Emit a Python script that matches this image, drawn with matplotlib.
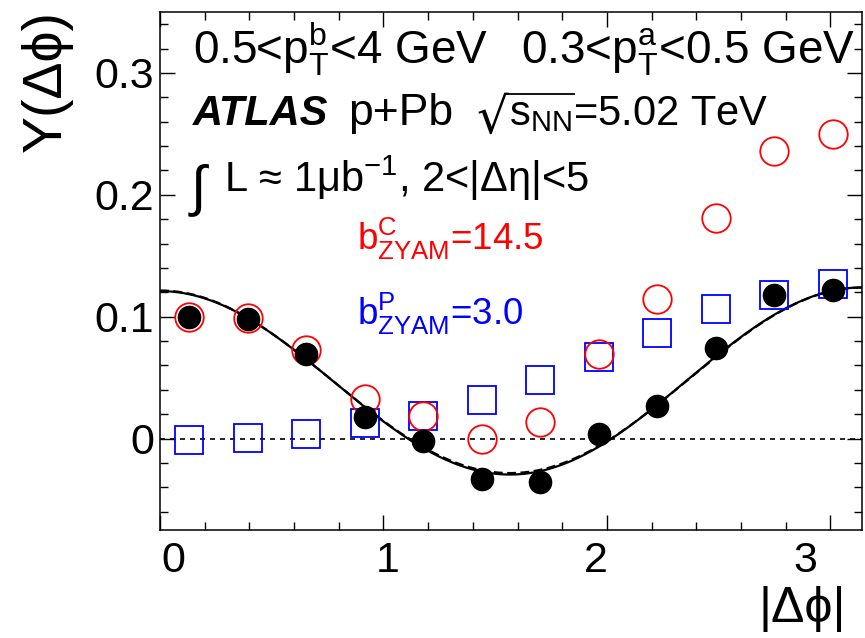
import numpy as np
import matplotlib
matplotlib.use("Agg")
import matplotlib.pyplot as plt
from matplotlib.lines import Line2D
from matplotlib.ticker import MultipleLocator
from matplotlib.transforms import ScaledTranslation

plt.rcParams['font.family'] = ['Liberation Sans', 'DejaVu Sans']
plt.rcParams['mathtext.fontset'] = 'custom'
plt.rcParams['mathtext.rm'] = 'Liberation Sans'
plt.rcParams['mathtext.it'] = 'Liberation Sans:italic'
plt.rcParams['mathtext.bf'] = 'Liberation Sans:bold'

# bin centres of |dphi| (12 bins over 0..pi)
dphi = [0.131, 0.393, 0.654, 0.916, 1.178, 1.440,
        1.702, 1.963, 2.225, 2.487, 2.749, 3.011]

# Y(dphi) after subtraction (black), central pairs (red), peripheral pairs (blue)
y_sub = [0.0995, 0.098, 0.069, 0.018, -0.0018, -0.033,
         -0.0358, 0.0035, 0.027, 0.074, 0.118, 0.122]
y_central = [0.0995, 0.099, 0.0727, 0.0325, 0.0189, -0.0003,
             0.0134, 0.0694, 0.1145, 0.181, 0.236, 0.250]
y_periph = [-0.0008, 0.0003, 0.0038, 0.0128, 0.0189, 0.0317,
            0.0484, 0.0667, 0.0863, 0.1063, 0.118, 0.1268]

# Fourier coefficients of the two fit curves: c0 + sum cn cos(n dphi)
fit_solid = [0.0465, -0.0015, 0.0760]
fit_dashed = [0.0468, -0.0012, 0.0755, 0.0, 0.0004]

W, H = 865, 638
fig = plt.figure(figsize=(W / 100, H / 100), dpi=100)
ax = fig.add_axes([160 / W, (H - 530) / H, 702 / W, 518 / H])


def fourier(coef, x):
    return sum(c * np.cos(n * x) for n, c in enumerate(coef))


xs = np.linspace(0, np.pi, 300)
ax.plot(xs, fourier(fit_dashed, xs), color='black', lw=1.6, ls=(0, (4, 2)), zorder=2)
ax.plot(xs, fourier(fit_solid, xs), color='black', lw=1.6, zorder=2)
ax.axhline(0, color='black', lw=1.2, ls=(0, (3, 3)), zorder=1)

ax.plot(dphi, y_periph, 's', ms=20.5, mfc='none', mec='blue', mew=1.3, zorder=3)
ax.plot(dphi, y_central, 'o', ms=20.5, mfc='none', mec='red', mew=1.3, zorder=4)
ax.plot(dphi, y_sub, 'o', ms=16, color='black', zorder=5)

ax.set_xlim(0, np.pi)
ax.set_ylim(-0.075, 0.35)
ax.set_xticks([0, 1, 2, 3], ['0', '1', '2', '3'])
ax.set_yticks([0, 0.1, 0.2, 0.3], ['0', '0.1', '0.2', '0.3'])
ax.xaxis.set_minor_locator(MultipleLocator(0.2))
ax.yaxis.set_minor_locator(MultipleLocator(0.02))
ax.tick_params(which='both', direction='in', top=True, right=True, width=1.0)
ax.tick_params(which='major', length=11, labelsize=31)
ax.tick_params(which='minor', length=6)
ax.tick_params(axis='x', pad=8)
ax.tick_params(axis='y', pad=4)
for s in ax.spines.values():
    s.set_linewidth(1.1)

# ROOT-like shifted x labels
for lab, dx in zip(ax.get_xticklabels(), [13, 4, -11, -25]):
    lab.set_transform(lab.get_transform() + ScaledTranslation(dx / 100, 0, fig.dpi_scale_trans))


def ftext(x, y, s, **kw):
    return fig.text(x / W, 1 - y / H, s, **kw)


ftext(193, 63, r'0.5<p$_\mathrm{T}^\mathrm{b}$<4 GeV', fontsize=33, va='baseline')
ftext(521, 63, r'0.3<p$_\mathrm{T}^\mathrm{a}$<0.5 GeV', fontsize=33, va='baseline')
ftext(193, 125, 'ATLAS', fontsize=30, fontweight='bold', fontstyle='italic', va='baseline')
ftext(348, 125, 'p+Pb', fontsize=32, va='baseline')
# square root drawn by hand: radical sign + bar
ftext(508, 133, '√', fontsize=36, family='DejaVu Sans', ha='right', va='baseline')
fig.add_artist(Line2D([505 / W, 574 / W], [1 - 94 / H, 1 - 94 / H], color='black', lw=1.3))
ftext(509, 125, r's$_\mathrm{NN}$=5.02 TeV', fontsize=30, va='baseline')

ftext(191, 204, '∫', fontsize=40, va='baseline')
ftext(224, 192, r'L ≈ 1μb$^\mathrm{-1}$, 2<|Δη|<5', fontsize=30, va='baseline')
ftext(357, 250, r'b$^\mathrm{C}_\mathrm{ZYAM}$=14.5', fontsize=26.5, color='red', va='baseline')
ftext(357, 325, r'b$^\mathrm{P}_\mathrm{ZYAM}$=3.0', fontsize=26.5, color='blue', va='baseline')

ftext(47, 10, 'Y(Δϕ)', fontsize=40, rotation=90, ha='center', va='top')
ftext(846, 586, '|Δϕ|', fontsize=36, ha='right', va='top')

fig.savefig('out.png', dpi=100)
